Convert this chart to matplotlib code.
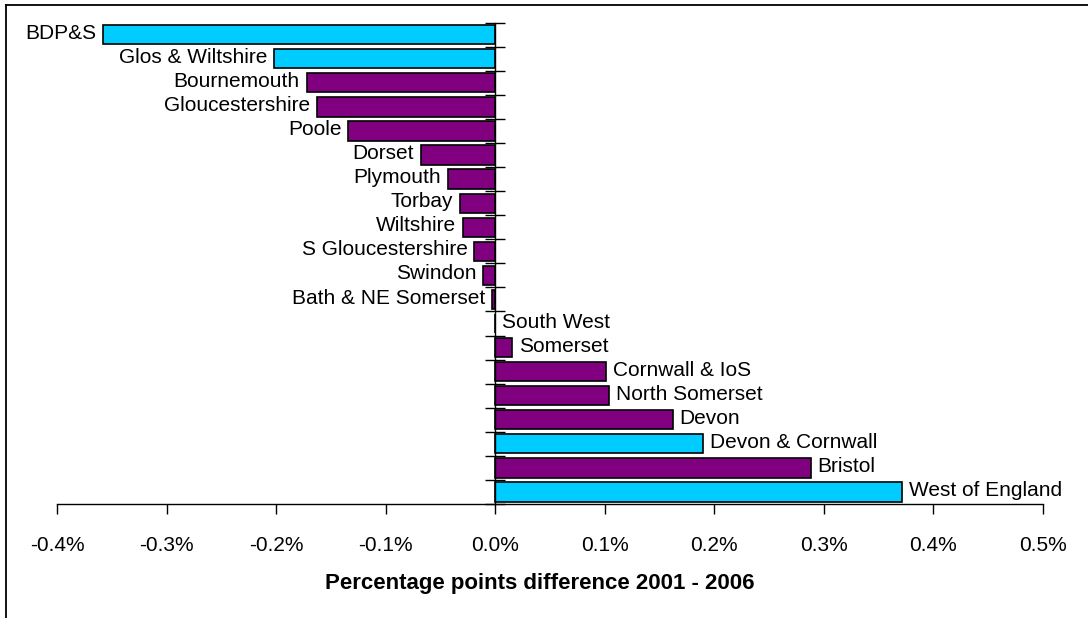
import matplotlib.pyplot as plt
from matplotlib.lines import Line2D
import numpy as np

plt.rcParams['font.family'] = ['Liberation Sans', 'DejaVu Sans']

areas = ['BDP&S', 'Glos & Wiltshire', 'Bournemouth', 'Gloucestershire', 'Poole',
         'Dorset', 'Plymouth', 'Torbay', 'Wiltshire', 'S Gloucestershire',
         'Swindon', 'Bath & NE Somerset', 'South West', 'Somerset',
         'Cornwall & IoS', 'North Somerset', 'Devon', 'Devon & Cornwall',
         'Bristol', 'West of England']
diff_pct = [-0.358, -0.202, -0.172, -0.163, -0.134,
            -0.068, -0.043, -0.032, -0.029, -0.019,
            -0.011, -0.003, 0.0, 0.015,
            0.101, 0.104, 0.162, 0.190,
            0.288, 0.371]
# sub-regional groupings are shown in light blue
groups = ['BDP&S', 'Glos & Wiltshire', 'Devon & Cornwall', 'West of England']
xticks = [-0.4, -0.3, -0.2, -0.1, 0.0, 0.1, 0.2, 0.3, 0.4, 0.5]
xticklabels = ['-0.4%', '-0.3%', '-0.2%', '-0.1%', '0.0%', '0.1%', '0.2%',
               '0.3%', '0.4%', '0.5%']

cyan = '#00CCFF'
purple = '#800080'
colours = [cyan if a in groups else purple for a in areas]

fig = plt.figure(figsize=(10.88, 6.18), dpi=100)
ax = fig.add_axes([57/1088, 1-504/618, (1043-57)/1088, (504-22.7)/618])

y = np.arange(len(areas))
ax.barh(y, diff_pct, height=0.8, color=colours, edgecolor='black', linewidth=1.2)

for i, (a, v) in enumerate(zip(areas, diff_pct)):
    if v < 0:
        ax.annotate(a, (v, i), xytext=(-5, 1), textcoords='offset points',
                    ha='right', va='center', fontsize=15)
    else:
        ax.annotate(a, (v, i), xytext=(5, 1), textcoords='offset points',
                    ha='left', va='center', fontsize=15)

ax.set_ylim(len(areas)-0.5, -0.5)
ax.set_xlim(-0.4, 0.5)
ax.set_xticks(xticks)
ax.set_xticklabels(xticklabels, fontsize=15)
ax.tick_params(axis='x', direction='out', length=7, width=1, pad=16)

ax.set_yticks(np.arange(-0.5, len(areas), 1))
ax.set_yticklabels([])
ax.tick_params(axis='y', direction='inout', length=14, width=1)

ax.spines['top'].set_visible(False)
ax.spines['right'].set_visible(False)
ax.spines['left'].set_position(('data', 0))
ax.spines['left'].set_linewidth(1)
ax.spines['bottom'].set_linewidth(1)
ax.set_facecolor('none')

fig.text(540/1088, 1-583/618, 'Percentage points difference 2001 - 2006',
         ha='center', va='center', fontsize=16, fontweight='bold')

# outer chart frame (only left and top edges visible)
fig.add_artist(Line2D([5.5/1088, 5.5/1088], [0, 1-4.5/618], color='black', lw=1.3,
                      transform=fig.transFigure))
fig.add_artist(Line2D([5.5/1088, 1], [1-4.5/618, 1-4.5/618], color='black', lw=1.3,
                      transform=fig.transFigure))

fig.savefig('out.png', dpi=100)
